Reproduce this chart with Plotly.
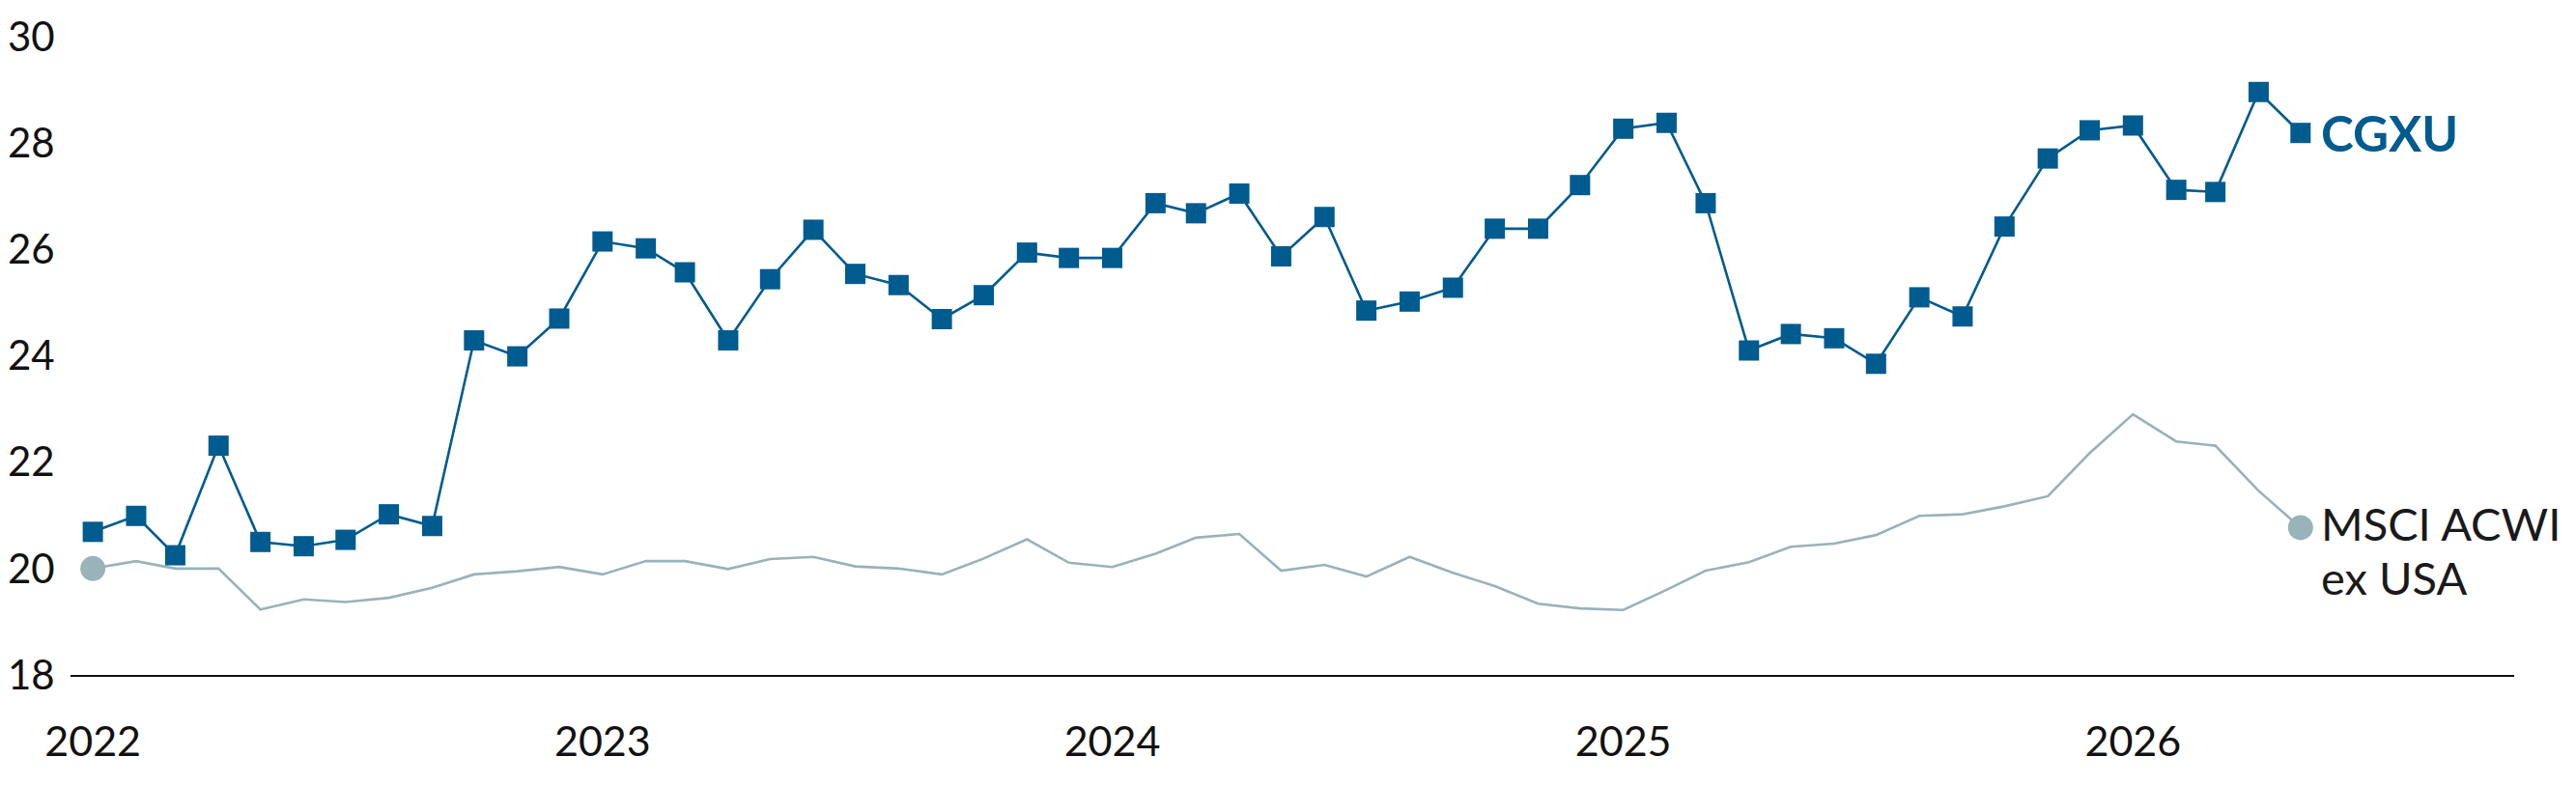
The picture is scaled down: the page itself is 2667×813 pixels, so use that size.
import pandas as pd
import plotly.graph_objects as go

# Monthly observations, Jan 2022 - May 2026
months = pd.date_range("2022-01-01", periods=53, freq="MS")

cgxu = [
    20.69, 20.99, 20.25, 22.31, 20.50, 20.42, 20.54, 21.02, 20.80, 24.29, 23.99, 24.70,
    26.15, 26.02, 25.57, 24.29, 25.44, 26.37, 25.54, 25.33, 24.69, 25.14, 25.94, 25.84,
    25.84, 26.87, 26.68, 27.05, 25.87, 26.61, 24.85, 25.02, 25.28, 26.39, 26.39, 27.21,
    28.27, 28.38, 26.87, 24.10, 24.41, 24.33, 23.85, 25.10, 24.74, 26.43, 27.71, 28.24,
    28.33, 27.12, 27.08, 28.96, 28.19,
]

msci = [
    20.00, 20.14, 20.00, 20.00, 19.23, 19.42, 19.37, 19.45, 19.64, 19.89, 19.95, 20.03,
    19.89, 20.14, 20.14, 19.99, 20.18, 20.22, 20.04, 20.00, 19.89, 20.19, 20.55, 20.11,
    20.03, 20.28, 20.58, 20.65, 19.96, 20.07, 19.85, 20.22, 19.92, 19.67, 19.34, 19.25,
    19.22, 19.60, 19.96, 20.12, 20.41, 20.47, 20.63, 20.99, 21.02, 21.17, 21.36, 22.17,
    22.90, 22.39, 22.31, 21.46, 20.77,
]

year_ticks = ["2022-01-01", "2023-01-01", "2024-01-01", "2025-01-01", "2026-01-01"]
year_labels = ["2022", "2023", "2024", "2025", "2026"]
y_ticks = [18, 20, 22, 24, 26, 28, 30]

BLUE = "#005b8f"
GREY = "#98b3b9"
FONT = "Lato"

fig = go.Figure()

# benchmark line, dots only at both ends
fig.add_trace(go.Scatter(
    x=months, y=msci, mode="lines",
    line=dict(color=GREY, width=2.6), hoverinfo="skip",
))
fig.add_trace(go.Scatter(
    x=[months[0], months[-1]], y=[msci[0], msci[-1]], mode="markers",
    marker=dict(color=GREY, size=26, symbol="circle"), hoverinfo="skip",
))

# fund line with square markers
fig.add_trace(go.Scatter(
    x=months, y=cgxu, mode="lines+markers",
    line=dict(color=BLUE, width=2.6),
    marker=dict(color=BLUE, size=21, symbol="square"),
))

# end labels
fig.add_annotation(
    x=months[-1], y=cgxu[-1], text="<b>CGXU</b>", showarrow=False,
    xanchor="left", yanchor="middle", xshift=19, yshift=0,
    font=dict(family=FONT, size=51, color=BLUE),
)
fig.add_annotation(
    x=months[-1], y=msci[-1], text="MSCI ACWI", showarrow=False,
    xanchor="left", yanchor="middle", xshift=19, yshift=4,
    font=dict(family=FONT, size=47, color="#1a1a1a"),
)
fig.add_annotation(
    x=months[-1], y=msci[-1], text="ex USA", showarrow=False,
    xanchor="left", yanchor="middle", xshift=19, yshift=-52,
    font=dict(family=FONT, size=47, color="#1a1a1a"),
)

# page body keeps an 8px margin, so the figure is 8px smaller on each axis
fig.update_layout(
    width=2659, height=805,
    margin=dict(l=65, r=64, t=30, b=114),
    plot_bgcolor="white", paper_bgcolor="white",
    showlegend=False,
    font=dict(family=FONT, size=43, color="#111111"),
)
fig.update_xaxes(
    type="date", range=["2021-12-16", "2026-10-01"],
    tickvals=year_ticks, ticktext=year_labels,
    showgrid=False, zeroline=False, automargin=False,
    showline=True, linecolor="#111111", linewidth=1.6,
    ticks="outside", ticklen=31, tickcolor="rgba(0,0,0,0)",
)
fig.update_yaxes(
    range=[18, 30], tickvals=y_ticks, tickfont=dict(size=42),
    showgrid=False, zeroline=False, showline=False, automargin=False,
    ticks="outside", ticklen=7, tickcolor="rgba(0,0,0,0)",
)

fig.write_html("out.html")
